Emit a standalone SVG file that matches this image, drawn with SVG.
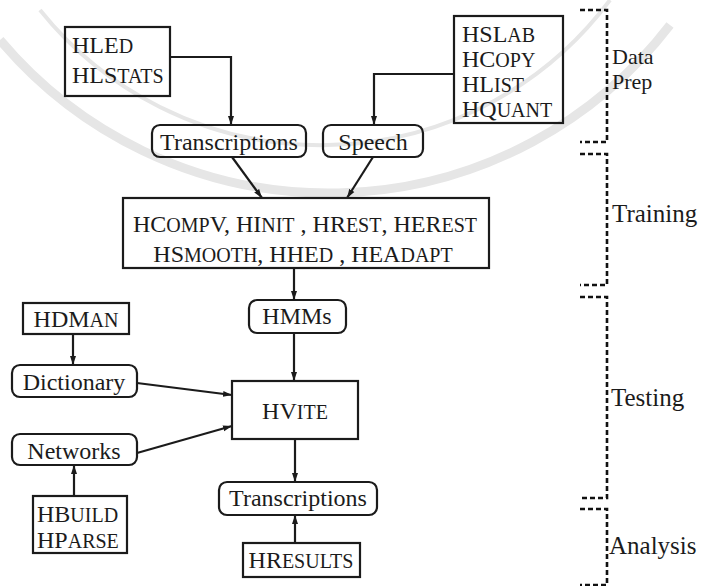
<svg xmlns="http://www.w3.org/2000/svg" width="705" height="586" viewBox="0 0 705 586" font-family="'Liberation Serif', 'Times New Roman', serif" font-size="24" fill="#1b1b1b">
  <style>
    .s { font-size: 20px; }
    .mid { text-anchor: middle; }
    .box { fill: none; stroke: #1b1b1b; stroke-width: 2.2; }
    .edge { fill: none; stroke: #1b1b1b; stroke-width: 2.2; marker-end: url(#arrow); }
    .phase { fill: none; stroke: #111; stroke-width: 2.6; stroke-dasharray: 5 3; }
    .seal { fill: none; stroke: #e6e6e6; }
  </style>
  <defs>
    <marker id="arrow" markerUnits="userSpaceOnUse" markerWidth="10" markerHeight="7" refX="9" refY="3.5" orient="auto">
      <path d="M0,0.5 L9,3.5 L0,6.5 z" fill="#1b1b1b"/>
    </marker>
  </defs>

  <rect width="705" height="586" fill="#ffffff"/>

  <!-- faint background seal -->
  <g id="seal">
    <path class="seal" stroke-width="9" d="M0,40 A430,430 0 0 0 670,25"/>
    <path class="seal" stroke-width="4" d="M40,10 A360,360 0 0 0 610,0"/>
  </g>

  <!-- connectors -->
  <g id="connectors">
    <path class="edge" d="M170,57 H231 V125"/>
    <path class="edge" d="M454,74 H374 V125"/>
    <path class="edge" d="M232,157 L262,198"/>
    <path class="edge" d="M373,157 L347,198"/>
    <path class="edge" d="M294,268 V300"/>
    <path class="edge" d="M294,333 V381"/>
    <path class="edge" d="M73,334 V365"/>
    <path class="edge" d="M137,383 L232,395"/>
    <path class="edge" d="M137,453 L232,426"/>
    <path class="edge" d="M74,496 V465"/>
    <path class="edge" d="M295,439 V482"/>
    <path class="edge" d="M295,543 V515"/>
  </g>

  <g id="hled">
    <rect class="box" x="65" y="27" width="105" height="69"/>
    <text x="72" y="53">HLE<tspan class="s">D</tspan></text>
    <text x="72" y="83">HLS<tspan class="s">TATS</tspan></text>
  </g>

  <g id="hslab">
    <rect class="box" x="454" y="16" width="109" height="107"/>
    <text x="462" y="42">HSL<tspan class="s">AB</tspan></text>
    <text x="462" y="67">HC<tspan class="s">OPY</tspan></text>
    <text x="462" y="92">HL<tspan class="s">IST</tspan></text>
    <text x="462" y="117">HQ<tspan class="s">UANT</tspan></text>
  </g>

  <g id="transcriptions-in">
    <rect class="box" x="152" y="125" width="154" height="32" rx="8"/>
    <text class="mid" x="229" y="150">Transcriptions</text>
  </g>

  <g id="speech">
    <rect class="box" x="323" y="125" width="100" height="32" rx="8"/>
    <text class="mid" x="373" y="150">Speech</text>
  </g>

  <g id="training">
    <rect class="box" x="123" y="198" width="366" height="70"/>
    <text class="mid" x="305" y="232">HC<tspan class="s">OMP</tspan>V, HI<tspan class="s">NIT</tspan> , HR<tspan class="s">EST</tspan>, HER<tspan class="s">EST</tspan></text>
    <text class="mid" x="303" y="262">HS<tspan class="s">MOOTH</tspan>, HHE<tspan class="s">D</tspan> , HEA<tspan class="s">DAPT</tspan></text>
  </g>

  <g id="hmms">
    <rect class="box" x="249" y="300" width="97" height="33" rx="8"/>
    <text class="mid" x="297" y="324">HMMs</text>
  </g>

  <g id="hvite">
    <rect class="box" x="232" y="381" width="126" height="58"/>
    <text class="mid" x="295" y="419">HV<tspan class="s">ITE</tspan></text>
  </g>

  <g id="hdman">
    <rect class="box" x="23" y="303" width="106" height="31"/>
    <text class="mid" x="76" y="327">HDM<tspan class="s">AN</tspan></text>
  </g>

  <g id="dictionary">
    <rect class="box" x="12" y="365" width="125" height="32" rx="8"/>
    <text class="mid" x="74" y="390">Dictionary</text>
  </g>

  <g id="networks">
    <rect class="box" x="12" y="434" width="125" height="31" rx="8"/>
    <text class="mid" x="74" y="459">Networks</text>
  </g>

  <g id="hbuild">
    <rect class="box" x="33" y="496" width="94" height="57"/>
    <text x="37" y="522">HB<tspan class="s">UILD</tspan></text>
    <text x="37" y="548">HP<tspan class="s">ARSE</tspan></text>
  </g>

  <g id="transcriptions-out">
    <rect class="box" x="219" y="482" width="158" height="33" rx="8"/>
    <text class="mid" x="298" y="506">Transcriptions</text>
  </g>

  <g id="hresults">
    <rect class="box" x="243" y="543" width="117" height="34"/>
    <text class="mid" x="301" y="568">HR<tspan class="s">ESULTS</tspan></text>
  </g>

  <!-- processing stages -->
  <g id="stages">
    <path class="phase" d="M580,10 H607 V142 H580"/>
    <path class="phase" d="M580,154 H607 V285 H580"/>
    <path class="phase" d="M580,297 H607 V498 H580"/>
    <path class="phase" d="M580,509 H607 V585 H580"/>
    <text x="612" y="64" font-size="22">Data</text>
    <text x="612" y="89" font-size="22">Prep</text>
    <text x="612" y="222" font-size="25">Training</text>
    <text x="611" y="406" font-size="25">Testing</text>
    <text x="609" y="554" font-size="25">Analysis</text>
  </g>
</svg>
